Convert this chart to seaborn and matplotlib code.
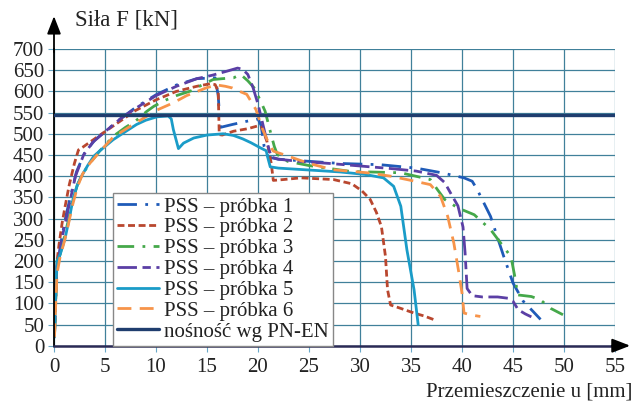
import matplotlib
matplotlib.use('Agg')
import matplotlib.pyplot as plt
import seaborn as sns
import pandas as pd

# ---------------- data ----------------
x1 = [0.05, 0.3, 0.5, 0.8, 1.2, 1.7, 2.2, 3.0, 4.0, 5, 6.5, 8, 10, 12, 14, 15.8, 16.1, 16.3, 17.5, 19, 20,
      20.3, 20.6, 21, 22, 25, 28, 32, 35.5, 38, 40.2, 41, 41.5, 42.8, 44.1, 45, 46, 47, 47.7]
f1 = [25, 190, 215, 260, 310, 360, 410, 455, 485, 505, 535, 562, 592, 615, 630, 632, 590, 515, 522, 530, 535,
      520, 470, 445, 440, 435, 430, 427, 419, 408, 396, 388, 368, 305, 210, 148, 105, 80, 62]

x2 = [0.05, 0.3, 0.5, 0.8, 1.1, 1.5, 2.0, 2.4, 2.8, 3.5, 5, 6.5, 8, 10, 12, 14, 15.3, 15.8, 16.1, 16.2, 16.5,
      17.6, 19, 19.9, 20.4, 20.9, 21.3, 21.5, 22.5, 24.2, 27.4, 29.2, 30.2, 31, 31.6, 32.1, 32.5, 32.7, 33,
      34, 35.3, 36.3, 37.3]
f2 = [30, 200, 240, 290, 330, 380, 430, 462, 468, 480, 505, 530, 555, 580, 600, 612, 618, 616, 600, 498, 497,
      506, 512, 518, 515, 480, 430, 390, 392, 396, 392, 382, 365, 345, 315, 281, 210, 132, 96,
      88, 77, 70, 61]

x3 = [0.05, 0.3, 0.6, 1.0, 1.4, 1.8, 2.3, 2.8, 3.5, 4.5, 5.8, 7, 8, 9.1, 9.8, 11, 12, 13.4, 14.5, 15.6, 16.5,
      17.6, 18.3, 19, 19.6, 20.2, 20.7, 21.2, 21.6, 21.9, 22.9, 25, 29.1, 34, 36.9, 37.6, 38.3, 39.6, 41.2,
      42.8, 43.8, 44.8, 45.3, 45.4, 46.8, 47.7, 48.7, 49.9]
f3 = [25, 200, 215, 255, 295, 340, 380, 405, 430, 460, 494, 515, 530, 553, 565, 580, 590, 601, 615, 628, 630,
      632, 640, 625, 609, 580, 553, 506, 470, 451, 435, 425, 411, 408, 392, 368, 345, 325, 309,
      274, 242, 210, 148, 120, 116, 108, 88, 73]

x4 = [0.05, 0.1, 0.3, 0.5, 0.75, 1.2, 1.65, 2.1, 2.9, 3.8, 5, 6.5, 8, 10, 12, 14, 15.5, 17, 18, 18.5, 19,
      19.5, 20, 20.5, 21, 21.3, 22, 24, 27, 30, 33, 35.5, 37.5, 38.3, 39, 39.6, 40.1, 40.3, 40.5, 41, 42,
      43.5, 44.5, 45, 45.5, 46.2, 46.8]
f4 = [20, 120, 190, 210, 250, 300, 350, 400, 450, 480, 505, 535, 560, 590, 612, 630, 638, 648, 655, 652, 640,
      610, 570, 520, 470, 445, 440, 435, 430, 424, 418, 412, 402, 385, 355, 330, 280, 220, 135, 118, 115,
      115, 112, 105, 85, 75, 68]

x5 = [0.05, 0.15, 0.3, 0.6, 1.1, 1.5, 1.9, 2.3, 2.7, 3.3, 3.9, 4.5, 5.8, 7, 8.1, 9, 10.1, 11.2, 11.5, 11.7,
      12.2, 12.7, 13.7, 15, 16.6, 17.6, 18.5, 19.3, 20.3, 20.8, 21.0, 21.2, 22, 24, 26, 28, 30.5, 32.3,
      33.3, 34, 34.6, 35.3, 35.7]
f5 = [20, 120, 200, 215, 255, 300, 350, 380, 400, 425, 447, 460, 486, 505, 522, 532, 540, 542, 535, 510,
      465, 478, 490, 497, 500, 496, 488, 479, 466, 460, 440, 422, 419, 416, 413, 410, 404, 396,
      376, 329, 226, 132, 50]

x6 = [0.05, 0.1, 0.3, 0.6, 1.0, 1.4, 1.8, 2.3, 2.8, 3.5, 4.5, 5.8, 7.5, 9, 10, 11.7, 13, 15, 16, 16.8, 17.5,
      18.2, 18.9, 19.8, 20.4, 21.0, 21.5, 22.5, 25, 27.4, 30.7, 33, 35, 36.9, 37.9, 38.6, 39.2, 39.7, 40.0,
      40.2, 41, 41.8]
f6 = [20, 60, 170, 210, 245, 285, 330, 375, 405, 430, 458, 492, 518, 540, 555, 573, 590, 609, 615, 612, 608,
      600, 593, 557, 514, 480, 459, 451, 430, 415, 408, 400, 390, 380, 352, 305, 242, 171, 124,
      77, 72, 69]

nosnosc = 545

labels = ["PSS – próbka 1", "PSS – próbka 2", "PSS – próbka 3", "PSS – próbka 4",
          "PSS – próbka 5", "PSS – próbka 6"]
label_nos = "nośność wg PN-EN"
x_ticks = [0, 5, 10, 15, 20, 25, 30, 35, 40, 45, 50, 55]
y_ticks = [0, 50, 100, 150, 200, 250, 300, 350, 400, 450, 500, 550, 600, 650, 700]

# ---------------- styling ----------------
colors = ['#1f5bb8', '#b9472f', '#45a84a', '#5b3fa5', '#1a9cc8', '#f7944a']
styles = [(0, (7, 3, 1, 3)), (0, (2.5, 1.3)), (0, (6, 3, 1, 3)), (0, (7, 2, 3, 2)), '-', (0, (5, 3))]

sns.set_theme(style='white')
plt.rcParams['font.family'] = ['Liberation Serif', 'DejaVu Serif']

fig = plt.figure(figsize=(6.44, 4.04), dpi=100)
ax = fig.add_axes([54 / 644, 1 - 345.7 / 404, 561 / 644, (345.7 - 49) / 404])

series = [(x1, f1), (x2, f2), (x3, f3), (x4, f4), (x5, f5), (x6, f6)]
handles = []
for (xs, fs), lab, c, ls in zip(series, labels, colors, styles):
    df = pd.DataFrame({'u': xs, 'F': fs})
    sns.lineplot(data=df, x='u', y='F', sort=False, estimator=None, ax=ax,
                 color=c, linewidth=2.0, label=lab)
    ln = ax.lines[-1]
    ln.set_linestyle(ls)
    handles.append(ln)

hl = ax.axhline(nosnosc, color='#1f3d6e', linewidth=2.4, label=label_nos, zorder=5)
handles.append(hl)

ax.set_xlim(0, 55)
ax.set_ylim(0, 700)
ax.set_xticks(x_ticks)
ax.set_yticks(y_ticks)
ax.set_xlabel('')
ax.set_ylabel('')
ax.grid(True, color='#40809a', linewidth=0.9)
ax.set_axisbelow(True)

for s in ['top', 'right']:
    ax.spines[s].set_visible(False)
ax.spines['left'].set_color('black')
ax.spines['left'].set_linewidth(1.3)
ax.spines['bottom'].set_color('#2a2a55')
ax.spines['bottom'].set_linewidth(1.8)

ax.tick_params(axis='both', labelsize=15, colors='#222222', length=4, width=0.8, pad=4,
               direction='out', bottom=True, left=True)
ax.tick_params(axis='x', color='#6aa8c8', pad=5)
ax.tick_params(axis='y', color='#6aa8c8', pad=3)

# axis arrows
ax.annotate('', xy=(0, 1.12), xytext=(0, 0.98), xycoords='axes fraction',
            arrowprops=dict(arrowstyle='-|>,head_length=0.9,head_width=0.35', color='black', lw=1.3),
            annotation_clip=False)
ax.annotate('', xy=(1.032, 0), xytext=(0.99, 0), xycoords='axes fraction',
            arrowprops=dict(arrowstyle='-|>,head_length=0.9,head_width=0.35', color='black', lw=1.5),
            annotation_clip=False)

fig.text(75 / 644, 1 - 20 / 404, 'Siła F [kN]', fontsize=16.5, ha='left', va='center', color='#222222')
fig.text(632 / 644, 1 - 392 / 404, 'Przemieszczenie u [mm]', fontsize=15, ha='right', va='center',
         color='#222222')

leg = ax.legend(handles=handles, labels=labels + [label_nos], loc='lower left',
                bbox_to_anchor=(0.105, 0.0), fontsize=15, frameon=True, fancybox=False,
                framealpha=1, edgecolor='#888888', handlelength=2.0, handletextpad=0.25,
                labelspacing=0.06, borderpad=0.2, borderaxespad=0.0)
leg.get_frame().set_linewidth(1.0)
for t in leg.get_texts():
    t.set_color('#222222')

fig.savefig('out.png', dpi=100)
